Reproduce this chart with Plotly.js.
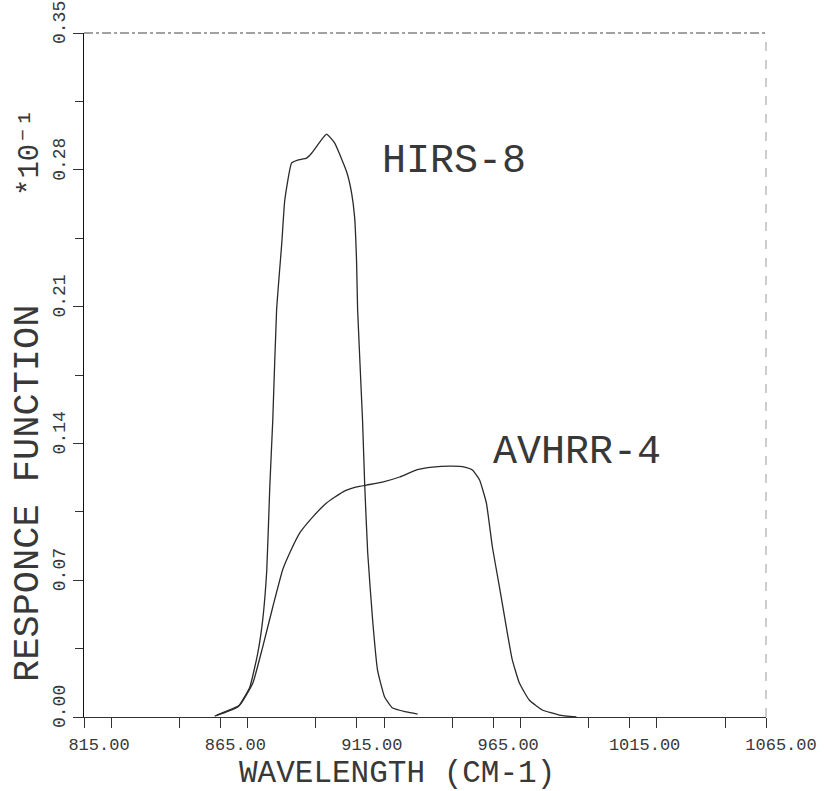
<!DOCTYPE html>
<html>
<head>
<meta charset="utf-8">
<script src="https://cdn.plot.ly/plotly-3.0.1.min.js"></script>
<style>
  html, body { margin: 0; padding: 0; background: #ffffff; }
  #chart { width: 830px; height: 791px; }
</style>
</head>
<body>
<div id="chart"></div>
<script>
// HIRS-8 response function (wavenumber cm-1, response)
const hirsX = [862.9, 871.4, 875.8, 878.7, 880.5, 882.0, 883.1, 884.2, 885.6, 887.5, 888.6, 891.1, 893.3, 896.6, 898.5, 901.4, 903.9, 906.9, 911.3, 913.1, 914.2, 914.9, 915.3, 917.1, 917.9, 919.0, 920.8, 922.6, 925.2, 928.1, 933.2, 937.3];
const hirsY = [0.0005, 0.0051, 0.0154, 0.0327, 0.0496, 0.0752, 0.1177, 0.152, 0.2083, 0.2425, 0.2645, 0.2835, 0.285, 0.286, 0.2886, 0.2942, 0.2983, 0.2937, 0.2789, 0.2681, 0.2558, 0.2338, 0.2083, 0.152, 0.1187, 0.0839, 0.0496, 0.024, 0.0102, 0.0046, 0.0026, 0.0015];

// AVHRR-4 response function
const avhrrX = [863.7, 872.1, 876.9, 880.5, 884.2, 887.8, 890.4, 894.1, 898.8, 903.9, 909.8, 914.9, 918.6, 924.4, 930.7, 936.9, 942.7, 950.1, 954.5, 957.4, 960.0, 962.5, 964.7, 967.3, 969.8, 972.0, 974.6, 978.2, 983.0, 989.2, 995.5];
const avhrrY = [0.001, 0.0061, 0.0174, 0.0358, 0.0563, 0.0752, 0.0839, 0.0942, 0.1023, 0.1095, 0.1151, 0.1177, 0.1187, 0.1202, 0.1228, 0.1264, 0.1279, 0.1284, 0.1279, 0.1264, 0.1213, 0.1095, 0.087, 0.0665, 0.0461, 0.0292, 0.0174, 0.0087, 0.0036, 0.001, 0.0];

// Tick labels
const xTickVals = [815, 865, 915, 965, 1015, 1065];
const xTickText = ["815.00", "865.00", "915.00", "965.00", "1015.00", "1065.00"];
const yTickVals = [0.00, 0.07, 0.14, 0.21, 0.28, 0.35];
const yTickText = ["0.00", "0.07", "0.14", "0.21", "0.28", "0.35"];

// Curve labels
const labelText = ["HIRS-8", "AVHRR-4"];
const labelX = [950.6, 995.7];
const labelY = [0.2845, 0.1356];

const FONT = "Liberation Mono, DejaVu Sans Mono, monospace";
const INK = "#2a2a2a";
const TXT = "#383838";

// plot-area geometry in pixels (for placing the free texts)
const L = 84, T = 33, W = 830 - 84 - 64, H = 791 - 33 - 74;
const px = v => (v - L) / W;
const py = v => 1 - (v - T) / H;

const traces = [
  { x: hirsX, y: hirsY, type: "scatter", mode: "lines", name: labelText[0],
    line: { color: INK, width: 1.3, shape: "spline", smoothing: 0.4 }, hoverinfo: "skip" },
  { x: avhrrX, y: avhrrY, type: "scatter", mode: "lines", name: labelText[1],
    line: { color: INK, width: 1.3, shape: "spline", smoothing: 0.4 }, hoverinfo: "skip" }
];

const annotations = [
  { x: labelX[0], y: labelY[0], xref: "x", yref: "y", text: labelText[0], showarrow: false,
    font: { family: FONT, size: 40, color: TXT } },
  { x: labelX[1], y: labelY[1], xref: "x", yref: "y", text: labelText[1], showarrow: false,
    font: { family: FONT, size: 40, color: TXT } },
  { x: px(397), y: py(773), xref: "paper", yref: "paper", text: "WAVELENGTH (CM-1)", showarrow: false,
    xanchor: "center", yanchor: "middle", borderpad: 0, font: { family: FONT, size: 31, color: TXT } },
  { x: px(28), y: py(494), xref: "paper", yref: "paper", text: "RESPONCE FUNCTION", showarrow: false,
    textangle: -90, xanchor: "center", yanchor: "middle", font: { family: FONT, size: 37, color: TXT } },
  { x: px(30), y: py(153), xref: "paper", yref: "paper", text: "*10\u207B\u00B9", showarrow: false,
    textangle: -90, xanchor: "center", yanchor: "middle", font: { family: FONT, size: 29, color: TXT } }
];

// y tick labels, rotated and set just above their ticks as in the plotter original
yTickVals.forEach((v, i) => {
  annotations.push({
    x: px(60), y: v, xref: "paper", yref: "y", text: yTickText[i], showarrow: false,
    textangle: -90, xanchor: "center", yanchor: "middle", yshift: 10, borderpad: 0,
    font: { family: FONT, size: 18, color: TXT }
  });
});

const layout = {
  width: 830, height: 791,
  margin: { l: L, r: 64, t: T, b: 74, pad: 0 },
  paper_bgcolor: "#ffffff", plot_bgcolor: "#ffffff",
  showlegend: false,
  font: { family: FONT, color: INK },
  xaxis: {
    range: [815, 1065], showgrid: false, zeroline: false,
    showline: true, linecolor: "#333", linewidth: 1,
    tickmode: "array", tickvals: xTickVals, ticktext: xTickText,
    ticks: "outside", ticklen: 10, tickwidth: 1, tickcolor: "#333",
    minor: { dtick: 25, ticks: "outside", ticklen: 10, tickwidth: 1, tickcolor: "#333", showgrid: false },
    tickfont: { family: FONT, size: 17, color: TXT },
    ticklabelshift: 15, ticklabelstandoff: 2
  },
  yaxis: {
    range: [0, 0.35], showgrid: false, zeroline: false,
    showline: true, linecolor: "#111", linewidth: 1.2,
    tickmode: "array", tickvals: yTickVals, ticktext: yTickText, showticklabels: false,
    ticks: "outside", ticklen: 10, tickwidth: 1, tickcolor: "#333",
    minor: { dtick: 0.035, ticks: "outside", ticklen: 8, tickwidth: 1, tickcolor: "#333", showgrid: false }
  },
  shapes: [
    { type: "line", xref: "paper", yref: "paper", x0: 0, x1: 1, y0: 1, y1: 1,
      line: { color: "#444", width: 1, dash: "dashdot" } },
    { type: "line", xref: "paper", yref: "paper", x0: 1, x1: 1, y0: 0, y1: 1,
      line: { color: "#999", width: 1, dash: "dash" } }
  ],
  annotations: annotations
};

Plotly.newPlot("chart", traces, layout, { displayModeBar: false, staticPlot: true });
</script>
</body>
</html>
